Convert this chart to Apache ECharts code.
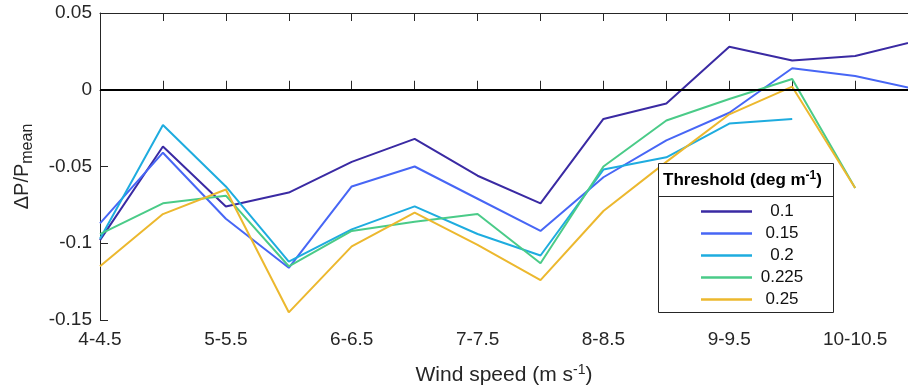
<!DOCTYPE html>
<html>
<head>
<meta charset="utf-8">
<script src="https://cdn.jsdelivr.net/npm/echarts@6/dist/echarts.min.js"></script>
<style>
html,body{margin:0;padding:0;background:#fff;}
#chart{width:908px;height:391px;}
</style>
</head>
<body>
<div id="chart"></div>
<script>
var categories = ['4-4.5','4.5-5','5-5.5','5.5-6','6-6.5','6.5-7','7-7.5','7.5-8','8-8.5','8.5-9','9-9.5','9.5-10','10-10.5','10.5-11'];
var seriesNames = ['0.1','0.15','0.2','0.225','0.25'];
var s01   = [-0.098,-0.037,-0.076,-0.067,-0.047,-0.032,-0.056,-0.074,-0.019,-0.009,0.028,0.019,0.022,0.032];
var s015  = [-0.087,-0.041,-0.084,-0.116,-0.063,-0.050,-0.071,-0.092,-0.057,-0.033,-0.015,0.014,0.009,0.000];
var s02   = [-0.097,-0.023,-0.063,-0.112,-0.091,-0.076,-0.094,-0.108,-0.052,-0.044,-0.022,-0.019,null,null];
var s0225 = [-0.094,-0.074,-0.069,-0.115,-0.092,-0.086,-0.081,-0.113,-0.050,-0.020,-0.006,0.007,-0.064,null];
var s025  = [-0.115,-0.081,-0.065,-0.145,-0.102,-0.080,-0.101,-0.124,-0.079,-0.047,-0.016,0.002,-0.064,null];
var yTicks = [-0.15,-0.1,-0.05,0,0.05];
var colors = ['#3a2aa3','#4766f5','#1eacdf','#4acb88','#ecb82e'];

var allData = [s01,s015,s02,s0225,s025];
var font = 'Liberation Sans, Helvetica, Arial, sans-serif';
var axisColor = '#262626';
// visible x range: the figure is cropped on the right, part way to the last bin
var xVisibleMax = 12.84;

var chart = echarts.init(document.getElementById('chart'));
var series = allData.map(function(d,i){
  var s = {
    name: seriesNames[i], type:'line', symbol:'none', showSymbol:false,
    data: d.map(function(v,k){ return [k, v]; }),
    connectNulls:false, animation:false, clip:true,
    lineStyle:{color:colors[i], width:2}, itemStyle:{color:colors[i]}, z:3
  };
  if(i===0){
    s.markLine = {silent:true, symbol:['none','none'], label:{show:false},
      lineStyle:{color:'#000', width:2, type:'solid'}, data:[{yAxis:0}], animation:false};
  }
  return s;
});

function catLabel(v){
  var k = Math.round(v);
  if (Math.abs(v-k) > 1e-6 || k % 2 !== 0) return '';
  return categories[k] || '';
}

chart.setOption({
  animation:false,
  backgroundColor:'#fff',
  textStyle:{fontFamily:font},
  grid:{left:100, top:13, right:0, height:310},
  xAxis:[{
    type:'value', min:0, max:xVisibleMax, interval:1, position:'bottom',
    axisLine:{lineStyle:{color:axisColor, width:1}},
    axisTick:{show:true, inside:true, length:9, lineStyle:{color:axisColor}},
    axisLabel:{color:'#262626', fontSize:19, margin:10, fontFamily:font, formatter:catLabel, showMaxLabel:false},
    splitLine:{show:false},
    name:'{a|Wind speed (m s}{s|-1}{a|)}', nameLocation:'middle', nameGap:43,
    nameTextStyle:{rich:{
      a:{fontSize:21, color:'#262626', fontFamily:font},
      s:{fontSize:14, color:'#262626', fontFamily:font, padding:[0,0,11,0]}
    }}
  },{
    type:'value', min:0, max:xVisibleMax, interval:1, position:'top',
    axisLine:{show:true, lineStyle:{color:axisColor, width:1}},
    axisTick:{show:true, inside:true, length:8, lineStyle:{color:axisColor}},
    axisLabel:{show:false}, splitLine:{show:false}
  }],
  yAxis:{
    type:'value', min:-0.15, max:0.05, interval:0.05,
    axisLine:{show:true, lineStyle:{color:axisColor, width:1}},
    axisTick:{show:true, inside:true, length:8, lineStyle:{color:axisColor}},
    axisLabel:{color:'#262626', fontSize:19, margin:8, fontFamily:font,
      formatter:function(v){ return String(+v.toFixed(2)); }},
    splitLine:{show:false},
    name:'{a|ΔP/P}{s|mean}', nameLocation:'middle', nameGap:64, nameRotate:90,
    nameTextStyle:{rich:{
      a:{fontSize:20, color:'#262626', fontFamily:font},
      s:{fontSize:16, color:'#262626', fontFamily:font, padding:[12,0,0,0]}
    }}
  },
  legend:{
    orient:'vertical', left:696, top:198, itemWidth:51, itemHeight:2.5, itemGap:5,
    icon:'rect',
    data:seriesNames,
    formatter:function(n){ return '{c|' + n + '}'; },
    textStyle:{fontSize:17, color:'#111', fontFamily:font, lineHeight:14,
      rich:{c:{fontSize:17, color:'#111', fontFamily:font, width:50, align:'center', lineHeight:14}}},
    z:10
  },
  graphic:[
    {type:'rect', shape:{x:658.5, y:163.5, width:175, height:149}, style:{fill:'#fff', stroke:'#262626', lineWidth:1}, z:5},
    {type:'line', shape:{x1:658.5, y1:196.5, x2:833.5, y2:196.5}, style:{stroke:'#262626', lineWidth:1}, z:6},
    {type:'text', left:663, top:170, z:6, style:{
      text:'{b|Threshold (deg m}{s|-1}{b|)}',
      rich:{
        b:{fontSize:17, fontWeight:'bold', fill:'#000', fontFamily:font},
        s:{fontSize:12, fontWeight:'bold', fill:'#000', fontFamily:font, padding:[0,0,9,0]}
      }
    }}
  ],
  series:series
});
</script>
</body>
</html>
